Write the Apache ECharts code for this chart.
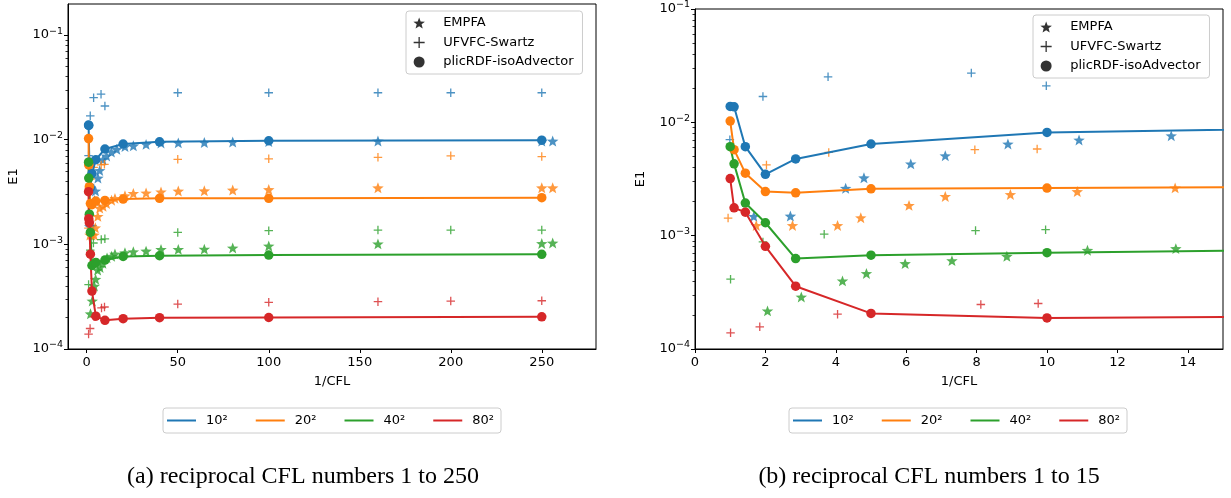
<!DOCTYPE html>
<html>
<head>
<meta charset="utf-8">
<script src="https://cdn.jsdelivr.net/npm/echarts@6/dist/echarts.min.js"></script>
<style>
html,body{margin:0;padding:0;background:#fff;}
#chart{width:1231px;height:498px;}
</style>
</head>
<body>
<div id="chart"></div>
<script>
// ---------------- data ----------------
const resNames = ['10²', '20²', '40²', '80²'];
const colors = ['#1f77b4', '#ff7f0e', '#2ca02c', '#d62728'];

// plicRDF-isoAdvector (lines with circles)
const plicX = [1, 1.11, 1.43, 2, 2.86, 5, 10, 20, 40, 100, 250];
const plic10 = [0.0138, 0.0137, 0.0061, 0.00348, 0.00475, 0.00644, 0.00815, 0.0091, 0.00955, 0.00977, 0.0099];
const plic20 = [0.01026, 0.00574, 0.00356, 0.00245, 0.00239, 0.00259, 0.00263, 0.00271, 0.00275, 0.00275, 0.00279];
const plic40 = [0.0061, 0.0043, 0.00194, 0.0013, 0.000628, 0.000672, 0.000708, 0.000767, 0.000778, 0.00079, 0.000803];
const plic80 = [0.00319, 0.00176, 0.00161, 0.000805, 0.000358, 0.000206, 0.000188, 0.000195, 0.000199, 0.0002, 0.000203];

// EMPFA (stars)
const empfaX10 = [1.67, 2.71, 4.28, 4.80, 6.13, 7.11, 8.89, 10.91, 13.53, 16.5, 21, 25.6, 32.6, 40.8, 50.3, 64.6, 80.2, 100, 160, 250, 256];
const empfa10 = [0.00148, 0.00149, 0.00262, 0.00324, 0.0043, 0.00508, 0.00644, 0.00699, 0.00762, 0.0081, 0.0086, 0.00875, 0.00902, 0.0093, 0.00933, 0.0094, 0.0095, 0.0096, 0.0097, 0.0097, 0.0097];
const empfaX20 = [1.74, 2.77, 4.05, 4.71, 6.08, 7.11, 8.96, 10.86, 13.64, 15.5, 21, 25.6, 32.6, 40.8, 50.3, 64.6, 80.2, 100, 160, 250, 256];
const empfa20 = [0.00123, 0.00123, 0.00123, 0.00144, 0.00185, 0.00222, 0.00231, 0.00245, 0.00264, 0.00275, 0.00291, 0.00307, 0.0031, 0.00317, 0.00323, 0.00325, 0.0033, 0.00334, 0.00347, 0.00347, 0.00347];
const empfaX40 = [2.06, 3.02, 4.19, 4.87, 5.97, 7.30, 8.86, 11.15, 13.66, 15.5, 21, 25.6, 32.6, 40.8, 50.3, 64.6, 80.2, 100, 160, 250, 256];
const empfa40 = [0.000217, 0.000288, 0.000399, 0.000464, 0.000567, 0.000602, 0.000658, 0.000743, 0.000769, 0.00081, 0.00083, 0.00085, 0.000862, 0.000895, 0.000895, 0.0009, 0.000923, 0.000965, 0.00101, 0.00102, 0.00103];

// UFVFC-Swartz (plus)
const swartzX10 = [0.99, 1.93, 3.78, 7.85, 9.98, 50, 100, 160, 200, 250];
const swartz10 = [0.00703, 0.0169, 0.0252, 0.0272, 0.021, 0.0281, 0.0281, 0.0281, 0.0281, 0.0281];
const swartzX20 = [0.94, 2.03, 3.80, 7.95, 9.72, 50, 100, 160, 200, 250];
const swartz20 = [0.00143, 0.00421, 0.00543, 0.00574, 0.00582, 0.00649, 0.00657, 0.00678, 0.00702, 0.0069];
const swartzX40 = [1.01, 1.93, 3.67, 7.97, 9.96, 50, 100, 160, 200, 250];
const swartz40 = [0.000413, 0.00088, 0.00103, 0.00111, 0.00113, 0.0013, 0.00135, 0.00137, 0.00137, 0.00137];
const swartzX80 = [1.01, 1.84, 4.05, 8.12, 9.75, 50, 100, 160, 200, 250];
const swartz80 = [0.000139, 0.000157, 0.000203, 0.000247, 0.000252, 0.000269, 0.000279, 0.000283, 0.000287, 0.000289];

// tick labels
const xTicksA = [0, 50, 100, 150, 200, 250];
const xTicksB = [0, 2, 4, 6, 8, 10, 12, 14];
const yMajor = [1e-4, 1e-3, 1e-2, 1e-1];
const captionA = '(a) reciprocal CFL numbers 1 to 250';
const captionB = '(b) reciprocal CFL numbers 1 to 15';

// ---------------- helpers ----------------
const zip = (xs, ys) => xs.map((x, i) => [x, ys[i]]);
const plicY = [plic10, plic20, plic40, plic80];
const empfaSets = [[empfaX10, empfa10], [empfaX20, empfa20], [empfaX40, empfa40], null];
const swartzSets = [[swartzX10, swartz10], [swartzX20, swartz20], [swartzX40, swartz40], [swartzX80, swartz80]];

function starPath() {
  const pts = [];
  for (let i = 0; i < 10; i++) {
    const r = i % 2 === 0 ? 1 : 0.42;
    const a = -Math.PI / 2 + i * Math.PI / 5;
    pts.push((r * Math.cos(a)).toFixed(4) + ',' + (r * Math.sin(a)).toFixed(4));
  }
  return 'path://M' + pts.join('L') + 'Z';
}
const STAR = starPath();
const PLUS = 'path://M0,5L10,5M5,0L5,10';

const minorTicks = [];
for (let e = -4; e <= -1; e++) for (let m = 2; m <= 9; m++) minorTicks.push(m * Math.pow(10, e));

const FONT = 'DejaVu Sans';
const txt = { color: '#000', fontFamily: FONT, fontSize: 13 };

function yLabelFmt(v) {
  const e = Math.round(Math.log10(v));
  return '{b|10}{s|' + (e < 0 ? '\u2212' + (-e) : e) + '}';
}

function xAxisDef(gi, min, max, ticks) {
  return {
    type: 'value', gridIndex: gi, min: min, max: max,
    name: '1/CFL', nameLocation: 'middle', nameGap: 26, nameTextStyle: txt,
    axisLine: { onZero: false, lineStyle: { color: '#000', width: 1 } },
    axisTick: { customValues: ticks, length: 4, lineStyle: { color: '#000' } },
    axisLabel: Object.assign({ customValues: ticks, margin: 7 }, txt),
    splitLine: { show: false }
  };
}
function yAxisDefs(gi, max) {
  return [{
    type: 'log', logBase: 10, gridIndex: gi, min: 1e-4, max: max, position: 'left',
    name: 'E1', nameLocation: 'middle', nameGap: 48, nameTextStyle: txt,
    axisLine: { onZero: false, lineStyle: { color: '#000', width: 1 } },
    axisTick: { customValues: yMajor, length: 4, lineStyle: { color: '#000' } },
    axisLabel: {
      customValues: yMajor, margin: 5, formatter: yLabelFmt,
      rich: {
        b: { fontSize: 13, fontFamily: FONT, color: '#000', lineHeight: 18 },
        s: { fontSize: 9.5, fontFamily: FONT, color: '#000', lineHeight: 10, verticalAlign: 'top' }
      }
    },
    splitLine: { show: false }
  }, {
    type: 'log', logBase: 10, gridIndex: gi, min: 1e-4, max: max, position: 'left', offset: 0,
    axisLine: { show: false, onZero: false },
    axisTick: { customValues: minorTicks.filter(v => v < max), length: 2.5, lineStyle: { color: '#000', width: 0.8 } },
    axisLabel: { show: false },
    splitLine: { show: false }
  }];
}

const series = [];
[0, 1].forEach(gi => {
  const yIdx = gi * 2;
  for (let r = 0; r < 4; r++) {
    if (empfaSets[r]) {
      series.push({
        type: 'scatter', name: 'EMPFA ' + resNames[r], xAxisIndex: gi, yAxisIndex: yIdx,
        symbol: STAR, symbolSize: 11.5, symbolKeepAspect: true, clip: true, z: 2,
        itemStyle: { color: colors[r] },
        data: zip(empfaSets[r][0], empfaSets[r][1])
      });
    }
    series.push({
      type: 'scatter', name: 'UFVFC ' + resNames[r], xAxisIndex: gi, yAxisIndex: yIdx,
      symbol: PLUS, symbolSize: 8.5, clip: true, z: 2,
      itemStyle: { color: colors[r], borderColor: colors[r], borderWidth: 1.3 },
      data: zip(swartzSets[r][0], swartzSets[r][1])
    });
  }
  for (let r = 0; r < 4; r++) {
    series.push({
      type: 'line', name: resNames[r], xAxisIndex: gi, yAxisIndex: yIdx,
      symbol: 'circle', symbolSize: 9.5, showSymbol: true, clip: true, z: 3,
      lineStyle: { width: 2, color: colors[r] },
      itemStyle: { color: colors[r] },
      data: zip(plicX, plicY[r])
    });
  }
});
// dummy series for the marker legend
series.push({ type: 'scatter', name: 'EMPFA', xAxisIndex: 0, yAxisIndex: 0, symbol: STAR, symbolKeepAspect: true, itemStyle: { color: '#000' }, data: [] });
series.push({ type: 'scatter', name: 'UFVFC-Swartz', xAxisIndex: 0, yAxisIndex: 0, symbol: PLUS, itemStyle: { color: '#000', borderColor: '#000', borderWidth: 1.3 }, data: [] });
series.push({ type: 'scatter', name: 'plicRDF-isoAdvector', xAxisIndex: 0, yAxisIndex: 0, symbol: 'circle', itemStyle: { color: '#000' }, data: [] });

function markerLegend(left, top) {
  return {
    orient: 'vertical', left: left, top: top,
    padding: [5, 9, 5, 7], itemWidth: 22, itemHeight: 11, itemGap: 5.5,
    backgroundColor: 'rgba(255,255,255,0.8)', borderColor: '#cccccc', borderWidth: 1, borderRadius: 3,
    selectedMode: false,
    textStyle: Object.assign({ lineHeight: 14, padding: [0, 0, 0, 8] }, txt),
    data: [
      { name: 'EMPFA', icon: STAR, itemStyle: { color: '#000' } },
      { name: 'UFVFC-Swartz', icon: PLUS, itemStyle: { color: '#000', borderColor: '#000', borderWidth: 1.3 } },
      { name: 'plicRDF-isoAdvector', icon: 'circle', itemStyle: { color: '#000' } }
    ]
  };
}
function lineLegend(left, top) {
  return {
    orient: 'horizontal', left: left, top: top,
    padding: [5.5, 7, 5.5, 4], itemWidth: 29, itemHeight: 2, itemGap: 28, icon: 'rect',
    backgroundColor: 'rgba(255,255,255,0.8)', borderColor: '#cccccc', borderWidth: 1, borderRadius: 3,
    selectedMode: false,
    textStyle: Object.assign({ lineHeight: 14, padding: [0, 0, 0, 5] }, txt),
    data: resNames
  };
}

const option = {
  animation: false,
  backgroundColor: '#fff',
  grid: [
    { left: 68, top: 4, width: 528, height: 345, show: true, borderColor: '#000', borderWidth: 1, backgroundColor: 'transparent' },
    { left: 695, top: 8, width: 528, height: 341, show: true, borderColor: '#000', borderWidth: 1, backgroundColor: 'transparent' }
  ],
  xAxis: [xAxisDef(0, -10.3, 279.8, xTicksA), xAxisDef(1, 0, 15, xTicksB)],
  yAxis: yAxisDefs(0, 0.198).concat(yAxisDefs(1, 0.1)),
  legend: [markerLegend(406, 11), markerLegend(1033, 15), lineLegend(163, 408), lineLegend(789, 408)],
  graphic: [
    { type: 'text', x: 303, y: 477, style: { text: captionA, font: '24px "Liberation Serif", "Times New Roman", serif', fill: '#000', textAlign: 'center', textVerticalAlign: 'middle' } },
    { type: 'text', x: 929, y: 477, style: { text: captionB, font: '24px "Liberation Serif", "Times New Roman", serif', fill: '#000', textAlign: 'center', textVerticalAlign: 'middle' } }
  ],
  series: series
};

const chart = echarts.init(document.getElementById('chart'), null, { renderer: 'canvas' });
chart.setOption(option);
</script>
</body>
</html>
